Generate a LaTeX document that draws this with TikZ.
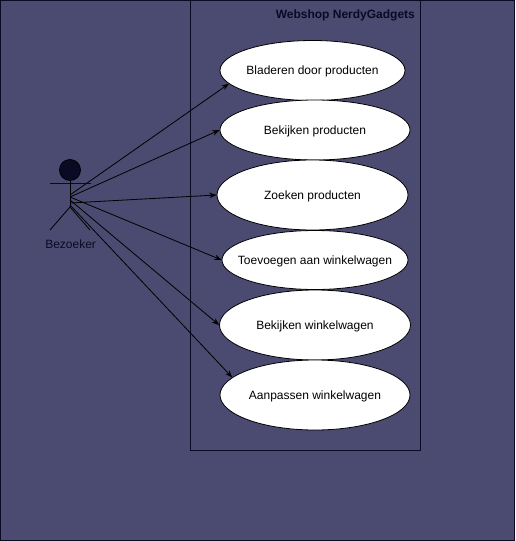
\documentclass[tikz,border=0pt]{standalone}
\usepackage{fontspec}
\setmainfont{Liberation Sans}
\usepackage{tikz}
\usetikzlibrary{arrows.meta, shapes.geometric}
\definecolor{pagebg}{HTML}{4B4A70}
\definecolor{inkdark}{HTML}{0B0A24}
\tikzset{>={Stealth[scale=1.1]}}
\tikzset{usecase/.style={draw=black, fill=white, ellipse, inner xsep=-30pt, inner ysep=0pt, text height=11pt, text depth=3pt, font=\fontsize{12}{14}\selectfont}}
\begin{document}
\begin{tikzpicture}[x=1pt, y=-1pt, line width=0.8pt]
        \useasboundingbox (0, 0) rectangle (515, 541);
        \draw[draw=inkdark, fill=pagebg] (0.5, 0.5) rectangle (514.5, 540.5);
        \draw[draw=inkdark] (190.5, 0.5) rectangle (420.5, 450.5);
        \node[font=\fontsize{12}{14}\selectfont\bfseries, text=inkdark, anchor=east, inner sep=0pt] (title) at (415.3, 15) {Webshop NerdyGadgets};
        \node[usecase, minimum width=185pt, minimum height=60pt] (browse) at (312.5, 70.5) {Bladeren door producten};
        \node[usecase, minimum width=190pt, minimum height=60pt] (view) at (315, 130) {Bekijken producten};
        \node[usecase, minimum width=191pt, minimum height=70pt] (search) at (312.5, 195) {Zoeken producten};
        \node[usecase, minimum width=186pt, minimum height=59pt] (add) at (315, 260) {Toevoegen aan winkelwagen};
        \node[usecase, minimum width=191pt, minimum height=70pt] (cart) at (315, 325) {Bekijken winkelwagen};
        \node[usecase, minimum width=190pt, minimum height=70pt] (edit) at (315, 395) {Aanpassen winkelwagen};
        % actor
        \node[draw=black, fill=inkdark, circle, minimum size=21pt, inner sep=0pt] (head) at (70, 170) {};
        \coordinate (armleft) at (50, 183.5);
        \coordinate (armright) at (91, 183.5);
        \coordinate (hip) at (70, 207);
        \coordinate (footleft) at (50, 230);
        \coordinate (footright) at (90, 230);
        \coordinate (actora) at (70, 195);
        \coordinate (actorb) at (70, 197);
        \coordinate (actorc) at (70, 200);
        \coordinate (actord) at (70, 203);
        \coordinate (actore) at (70, 205);
        \draw[draw=inkdark] (armleft) -- (armright);
        \draw (head) -- (hip);
        \draw (footleft) -- (hip) -- (footright);
        \node[font=\fontsize{12}{14}\selectfont, text=inkdark, inner sep=0pt] (visitor) at (70.6, 244.5) {Bezoeker};
        \draw[->] (actora) -- (browse.189.6);
        \draw[->] (actorb) -- (view.west);
        \draw[->] (actord) -- (search.west);
        \draw[->] (actorb) -- (add.west);
        \draw[->] (actorc) -- (cart.west);
        \draw[->] (actore) -- (edit.168.7);
    \end{tikzpicture}
\end{document}
